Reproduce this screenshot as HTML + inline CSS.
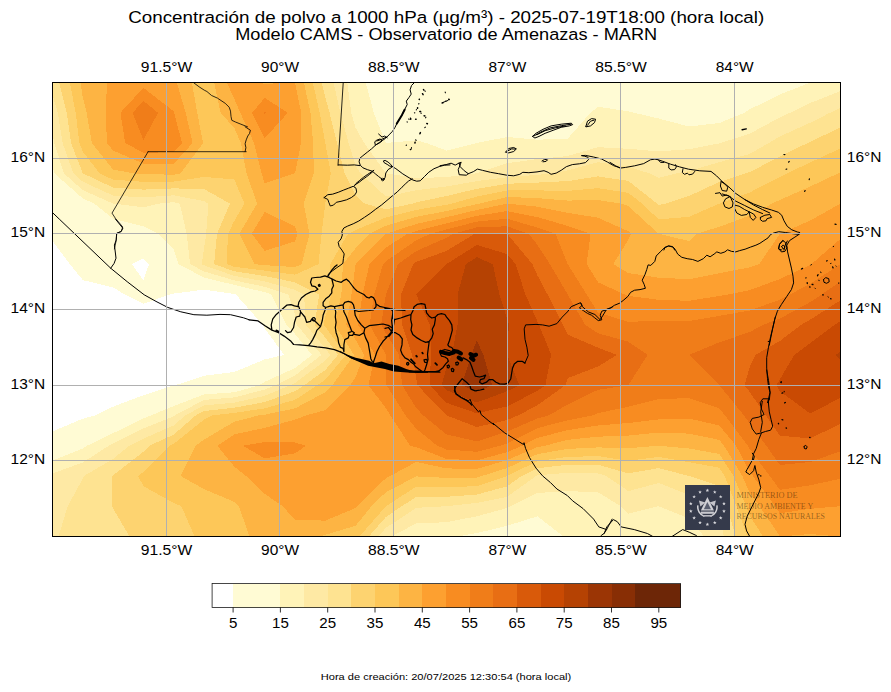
<!DOCTYPE html>
<html><head><meta charset="utf-8"><title>Concentración de polvo</title>
<style>
html,body{margin:0;padding:0;background:#fff;}
body{width:891px;height:692px;overflow:hidden;font-family:"Liberation Sans",sans-serif;}
svg{display:block;}
text{font-family:"Liberation Sans",sans-serif;fill:#000;}
</style></head><body>
<svg width="891" height="692" viewBox="0 0 891 692">
<rect x="0" y="0" width="891" height="692" fill="#ffffff"/>
<defs><clipPath id="ax"><rect x="52.5" y="82.5" width="788" height="454"/></clipPath></defs>
<text x="128.2" y="22.9" font-size="16.8" textLength="636" lengthAdjust="spacingAndGlyphs">Concentración de polvo a 1000 hPa (µg/m³) - 2025-07-19T18:00 (hora local)</text>
<text x="235.2" y="39.7" font-size="16.8" textLength="422" lengthAdjust="spacingAndGlyphs">Modelo CAMS - Observatorio de Amenazas - MARN</text>
<g clip-path="url(#ax)">
<rect x="52" y="82" width="789" height="455" fill="#ffffff"/>
<g id="cf" stroke="none" shape-rendering="crispEdges">
<path fill="#fffbd4" fill-rule="evenodd" d="M52.5,536.5L82.8,536.5L113.1,536.5L143.4,536.5L173.7,536.5L204.0,536.5L234.3,536.5L264.7,536.5L295.0,536.5L325.3,536.5L355.6,536.5L385.9,536.5L416.2,536.5L446.5,536.5L476.8,536.5L507.1,536.5L537.4,536.5L567.7,536.5L598.0,536.5L628.3,536.5L658.7,536.5L689.0,536.5L719.3,536.5L749.6,536.5L779.9,536.5L810.2,536.5L840.5,536.5L840.5,506.2L840.5,476.0L840.5,445.7L840.5,415.4L840.5,385.2L840.5,354.9L840.5,324.6L840.5,294.4L840.5,264.1L840.5,233.8L840.5,203.6L840.5,173.3L840.5,143.0L840.5,112.8L840.5,82.5L810.2,82.5L779.9,82.5L749.6,82.5L719.3,82.5L689.0,82.5L658.7,82.5L628.3,82.5L598.0,82.5L567.7,82.5L537.4,82.5L507.1,82.5L476.8,82.5L446.5,82.5L416.2,82.5L385.9,82.5L355.6,82.5L325.3,82.5L295.0,82.5L264.7,82.5L234.3,82.5L204.0,82.5L173.7,82.5L143.4,82.5L113.1,82.5L82.8,82.5L52.5,82.5L52.5,112.8L52.5,143.0L52.5,173.3L52.5,203.6L52.5,233.8L52.5,240.8L69.8,264.1L82.8,280.1L113.1,287.4L124.5,294.4L143.4,303.8L170.2,294.4L173.7,293.6L204.0,289.6L234.3,294.0L235.8,294.4L262.5,324.6L264.7,328.6L284.2,354.9L264.7,359.4L234.3,372.0L204.0,375.8L175.4,385.2L173.7,385.4L143.4,395.2L113.1,406.7L95.6,415.4L82.8,418.7L52.5,431.4L52.5,445.7L52.5,476.0L52.5,506.2ZM143.4,280.6L132.1,264.1L143.4,258.5L149.0,264.1Z"/>
<path fill="#fff3b8" fill-rule="evenodd" d="M52.5,536.5L82.8,536.5L113.1,536.5L143.4,536.5L173.7,536.5L204.0,536.5L234.3,536.5L264.7,536.5L295.0,536.5L325.3,536.5L355.6,536.5L385.9,536.5L416.2,536.5L446.5,536.5L456.6,536.5L476.8,533.1L507.1,525.8L537.4,516.3L563.4,536.5L567.7,536.5L598.0,536.5L628.3,536.5L658.7,536.5L689.0,536.5L719.3,536.5L749.6,536.5L779.9,536.5L810.2,536.5L840.5,536.5L840.5,506.2L840.5,476.0L840.5,445.7L840.5,415.4L840.5,385.2L840.5,354.9L840.5,324.6L840.5,294.4L840.5,264.1L840.5,233.8L840.5,203.6L840.5,173.3L840.5,143.0L840.5,112.8L840.5,82.5L810.2,82.5L810.2,82.5L779.9,94.5L749.6,109.4L744.5,112.8L719.3,123.0L689.0,126.5L658.7,118.5L634.4,112.8L628.3,111.3L598.0,106.7L590.5,112.8L567.7,138.7L537.4,139.7L507.1,137.0L476.8,143.0L476.8,143.0L446.5,150.6L426.3,143.0L416.2,140.3L385.9,143.0L385.9,143.0L385.9,143.0L373.8,112.8L365.7,82.5L355.6,82.5L325.3,82.5L295.0,82.5L264.7,82.5L234.3,82.5L204.0,82.5L173.7,82.5L143.4,82.5L113.1,82.5L82.8,82.5L52.5,82.5L52.5,112.8L52.5,143.0L52.5,167.2L54.4,173.3L82.8,198.5L94.2,203.6L113.1,218.7L143.4,226.3L158.6,233.8L173.7,249.0L178.4,264.1L204.0,277.5L234.3,284.9L264.7,292.2L271.4,294.4L286.1,324.6L295.0,334.0L311.9,354.9L295.0,368.1L264.7,381.8L259.2,385.2L234.3,392.3L204.0,394.4L173.7,406.1L151.0,415.4L143.4,418.5L113.1,433.2L87.1,445.7L82.8,448.5L52.5,460.6L52.5,476.0L52.5,506.2Z"/>
<path fill="#fee9a4" fill-rule="evenodd" d="M52.5,536.5L82.8,536.5L113.1,536.5L143.4,536.5L173.7,536.5L204.0,536.5L234.3,536.5L264.7,536.5L295.0,536.5L325.3,536.5L355.6,536.5L385.9,536.5L391.7,536.5L416.2,523.4L446.5,522.2L476.8,516.3L507.1,508.0L510.9,506.2L537.4,493.0L567.7,491.1L598.0,492.3L620.8,506.2L628.3,513.8L658.7,506.2L658.7,506.2L658.7,506.2L689.0,518.3L704.1,536.5L719.3,536.5L749.6,536.5L779.9,536.5L810.2,536.5L840.5,536.5L840.5,506.2L840.5,476.0L840.5,445.7L840.5,415.4L840.5,385.2L840.5,354.9L840.5,324.6L840.5,294.4L840.5,264.1L840.5,233.8L840.5,203.6L840.5,173.3L840.5,143.0L840.5,112.8L840.5,91.0L810.2,103.0L790.0,112.8L779.9,117.4L749.6,133.7L720.7,143.0L719.3,143.4L689.0,149.2L658.7,151.4L628.3,148.8L598.0,147.2L567.7,156.0L537.4,159.1L507.1,163.2L476.8,173.3L476.8,173.3L446.5,177.1L416.2,178.1L385.9,173.3L385.9,173.3L364.2,143.0L355.6,127.9L351.2,112.8L347.3,82.5L325.3,82.5L295.0,82.5L264.7,82.5L234.3,82.5L204.0,82.5L173.7,82.5L143.4,82.5L113.1,82.5L82.8,82.5L52.5,82.5L52.5,112.8L52.5,132.9L54.2,143.0L63.9,173.3L82.8,190.1L113.1,203.6L113.1,203.6L143.4,207.3L158.6,203.6L173.7,202.2L179.8,203.6L186.7,233.8L190.1,264.1L204.0,271.4L234.3,280.4L264.7,286.8L288.2,294.4L295.0,314.5L296.7,324.6L321.5,354.9L295.0,375.5L275.3,385.2L264.7,389.6L234.3,397.4L204.0,399.9L174.8,415.4L173.7,416.4L143.4,428.5L113.1,443.6L108.8,445.7L82.8,462.5L52.5,473.4L52.5,476.0L52.5,506.2Z"/>
<path fill="#fee391" fill-rule="evenodd" d="M58.6,536.5L82.8,536.5L113.1,536.5L143.4,536.5L173.7,536.5L204.0,536.5L234.3,536.5L264.7,536.5L295.0,536.5L325.3,536.5L355.6,536.5L378.3,536.5L385.9,527.9L416.2,507.8L446.5,506.2L446.5,506.2L476.8,502.9L507.1,496.8L536.0,476.0L537.4,475.3L567.7,472.8L598.0,473.4L606.3,476.0L628.3,491.1L658.7,483.0L689.0,494.9L711.7,506.2L719.3,516.3L723.9,536.5L749.6,536.5L779.9,536.5L810.2,536.5L840.5,536.5L840.5,506.2L840.5,476.0L840.5,445.7L840.5,415.4L840.5,385.2L840.5,354.9L840.5,324.6L840.5,294.4L840.5,264.1L840.5,233.8L840.5,203.6L840.5,173.3L840.5,143.0L840.5,112.8L840.5,108.0L829.9,112.8L810.2,122.7L779.9,136.5L768.9,143.0L749.6,154.0L719.3,162.1L689.0,171.1L677.3,173.3L658.7,177.9L649.3,173.3L628.3,166.8L598.0,162.2L567.7,170.4L552.6,173.3L537.4,174.9L507.1,177.2L476.8,181.1L446.5,186.5L416.2,190.2L385.9,196.6L360.6,173.3L355.6,165.7L348.6,143.0L340.4,112.8L333.5,82.5L325.3,82.5L295.0,82.5L264.7,82.5L234.3,82.5L204.0,82.5L173.7,82.5L143.4,82.5L113.1,82.5L82.8,82.5L52.5,82.5L52.5,94.6L57.8,112.8L62.6,143.0L73.3,173.3L82.8,181.7L113.1,195.6L143.4,197.4L173.7,195.3L204.0,201.1L208.4,203.6L206.2,233.8L204.0,249.0L201.7,264.1L204.0,265.3L234.3,275.9L264.7,281.4L295.0,289.8L304.1,294.4L305.7,324.6L325.3,348.4L330.1,354.9L325.3,360.6L295.0,382.9L290.4,385.2L264.7,395.8L234.3,402.6L204.0,405.5L185.2,415.4L173.7,425.5L143.4,438.6L129.3,445.7L113.1,458.9L83.9,476.0L82.8,478.7L67.7,506.2Z"/>
<path fill="#fdd370" fill-rule="evenodd" d="M112.1,506.2L113.1,508.6L129.6,536.5L143.4,536.5L173.7,536.5L204.0,536.5L234.3,536.5L264.7,536.5L295.0,536.5L325.3,536.5L355.6,536.5L368.8,536.5L385.9,517.0L401.8,506.2L416.2,497.0L446.5,496.8L476.8,494.5L507.1,486.4L521.5,476.0L537.4,468.2L567.7,464.8L598.0,464.7L628.3,473.4L658.7,468.1L689.0,476.0L689.0,476.0L719.3,486.1L726.9,506.2L735.6,536.5L749.6,536.5L779.9,536.5L810.2,536.5L840.5,536.5L840.5,506.2L840.5,476.0L840.5,445.7L840.5,415.4L840.5,385.2L840.5,354.9L840.5,324.6L840.5,294.4L840.5,264.1L840.5,233.8L840.5,203.6L840.5,173.3L840.5,143.0L840.5,127.3L810.2,141.9L807.7,143.0L779.9,156.4L749.6,172.2L745.6,173.3L719.3,181.9L689.0,196.0L666.2,203.6L658.7,205.0L657.1,203.6L628.3,180.9L598.0,176.4L567.7,181.1L537.4,182.6L507.1,183.8L476.8,188.8L446.5,196.0L416.2,202.4L412.4,203.6L385.9,209.3L364.7,203.6L355.6,195.3L344.6,173.3L336.9,143.0L329.6,112.8L325.3,97.6L321.7,82.5L295.0,82.5L264.7,82.5L234.3,82.5L204.0,82.5L173.7,82.5L143.4,82.5L113.1,82.5L82.8,82.5L59.0,82.5L66.8,112.8L71.0,143.0L82.8,173.3L82.8,173.3L113.1,187.6L143.4,189.6L173.7,188.4L204.0,189.0L230.0,203.6L217.0,233.8L214.1,264.1L234.3,271.3L264.7,276.0L295.0,282.3L319.2,294.4L314.6,324.6L325.3,337.6L338.0,354.9L325.3,370.0L304.2,385.2L295.0,391.2L264.7,402.1L234.3,407.7L204.0,411.0L195.7,415.4L173.7,434.7L149.5,445.7L143.4,451.8L113.1,475.3L112.0,476.0Z"/>
<path fill="#fdc758" fill-rule="evenodd" d="M194.7,536.5L204.0,536.5L234.3,536.5L264.7,536.5L295.0,536.5L325.3,536.5L355.6,536.5L359.4,536.5L385.9,506.2L385.9,506.2L416.2,486.7L446.5,487.3L476.8,486.1L507.1,476.0L507.1,476.0L537.4,461.2L567.7,456.9L598.0,456.1L628.3,460.8L658.7,456.9L689.0,462.2L719.3,467.7L724.6,476.0L736.5,506.2L747.2,536.5L749.6,536.5L779.9,536.5L810.2,536.5L840.5,536.5L840.5,506.2L840.5,476.0L840.5,445.7L840.5,415.4L840.5,385.2L840.5,354.9L840.5,324.6L840.5,294.4L840.5,264.1L840.5,233.8L840.5,203.6L840.5,173.3L840.5,148.3L810.2,162.5L787.0,173.3L779.9,177.0L749.6,192.5L719.3,203.6L719.3,203.6L689.0,216.8L658.7,219.4L642.0,203.6L628.3,192.8L598.0,188.2L567.7,190.9L537.4,190.4L507.1,190.4L476.8,196.6L452.0,203.6L446.5,204.8L416.2,209.9L385.9,217.5L355.6,230.0L348.0,233.8L330.3,264.1L331.3,294.4L325.3,317.1L323.5,324.6L325.3,326.8L346.0,354.9L325.3,379.5L317.4,385.2L295.0,399.8L264.7,408.4L234.3,412.9L212.7,415.4L204.0,419.5L173.7,443.9L169.7,445.7L143.4,471.9L138.2,476.0L143.4,486.1L173.7,503.0L181.3,506.2ZM226.8,264.1L234.3,266.8L264.7,270.6L295.0,274.7L318.5,264.1L321.6,233.8L325.3,203.6L325.3,203.6L330.8,173.3L325.3,143.0L325.3,143.0L319.7,112.8L312.8,82.5L295.0,82.5L264.7,82.5L234.3,82.5L204.0,82.5L173.7,82.5L143.4,82.5L113.1,82.5L82.8,82.5L69.8,82.5L75.7,112.8L79.4,143.0L82.8,151.7L99.6,173.3L113.1,179.7L143.4,181.8L173.7,181.6L204.0,176.9L234.3,179.4L244.4,203.6L234.3,220.9L227.9,233.8Z"/>
<path fill="#fdb443" fill-rule="evenodd" d="M249.5,536.5L264.7,536.5L295.0,536.5L320.5,536.5L325.3,534.8L355.6,525.8L371.5,506.2L385.9,492.2L416.2,476.4L446.5,477.9L476.8,477.6L481.9,476.0L507.1,468.0L537.4,454.1L567.7,448.9L598.0,447.4L628.3,448.2L658.7,445.7L658.7,445.7L658.7,445.7L689.0,448.5L719.3,454.0L733.5,476.0L746.1,506.2L749.6,515.6L763.0,536.5L779.9,536.5L810.2,536.5L840.5,536.5L840.5,506.2L840.5,476.0L840.5,445.7L840.5,415.4L840.5,385.2L840.5,354.9L840.5,324.6L840.5,294.4L840.5,264.1L840.5,233.8L840.5,203.6L840.5,173.3L840.5,172.3L838.2,173.3L810.2,186.5L779.9,199.9L772.1,203.6L749.6,215.6L719.3,226.8L696.5,233.8L689.0,241.0L658.7,233.8L658.7,233.8L628.3,206.1L620.8,203.6L598.0,200.0L567.7,200.6L537.4,198.1L507.1,197.0L479.6,203.6L476.8,204.1L446.5,211.0L416.2,216.9L385.9,225.7L369.9,233.8L355.6,248.2L342.9,264.1L341.4,294.4L334.6,324.6L354.0,354.9L332.4,385.2L325.3,392.3L295.0,408.4L264.7,414.7L258.8,415.4L234.3,421.7L204.0,439.6L195.8,445.7L180.7,476.0L204.0,489.1L234.3,501.9L238.9,506.2ZM254.6,264.1L264.7,265.2L295.0,267.1L301.7,264.1L309.5,233.8L303.6,203.6L313.9,173.3L313.1,143.0L310.5,112.8L303.9,82.5L295.0,82.5L264.7,82.5L234.3,82.5L214.1,82.5L220.6,112.8L234.3,127.9L240.9,143.0L246.5,173.3L257.1,203.6L239.3,233.8ZM133.3,173.3L143.4,174.1L173.7,174.7L180.5,173.3L203.2,143.0L197.2,112.8L191.9,82.5L173.7,82.5L143.4,82.5L113.1,82.5L82.8,82.5L80.6,82.5L82.8,97.6L86.6,112.8L91.9,143.0L113.1,169.5Z"/>
<path fill="#fda030" fill-rule="evenodd" d="M282.7,506.2L295.0,520.0L325.3,520.6L355.6,508.0L357.0,506.2L385.9,478.2L390.2,476.0L416.2,461.9L446.5,468.4L476.8,469.0L507.1,460.0L537.4,447.1L545.0,445.7L567.7,439.8L598.0,436.7L628.3,435.6L658.7,432.5L689.0,433.6L719.3,439.9L724.0,445.7L742.4,476.0L749.6,492.8L759.6,506.2L779.9,536.5L810.2,534.0L840.5,536.5L840.5,506.2L840.5,476.0L840.5,445.7L840.5,415.4L840.5,385.2L840.5,354.9L840.5,324.6L840.5,294.4L840.5,264.1L840.5,233.8L840.5,203.6L810.2,220.5L779.9,233.8L779.9,233.8L759.2,264.1L749.6,267.3L719.3,273.3L689.0,279.2L658.7,277.7L628.3,273.1L613.2,264.1L628.3,239.9L631.1,233.8L628.3,231.3L598.0,217.7L567.7,212.8L537.4,206.7L507.1,203.6L476.8,210.0L446.5,217.2L416.2,224.0L385.9,233.8L385.9,233.8L355.6,264.1L355.6,264.1L351.5,294.4L346.3,324.6L355.6,339.8L364.2,354.9L355.6,376.9L350.2,385.2L325.3,410.1L306.3,415.4L295.0,419.6L264.7,427.9L234.3,434.4L217.3,445.7L234.3,466.7L246.0,476.0L264.7,493.9ZM251.7,233.8L264.7,250.9L295.0,241.4L297.4,233.8L295.0,226.3L264.7,212.0ZM261.6,173.3L264.7,183.4L295.0,173.3L295.0,173.3L301.0,143.0L301.2,112.8L295.0,82.5L264.7,83.9L260.3,82.5L234.3,82.5L226.8,82.5L234.3,99.0L240.3,112.8L254.1,143.0ZM107.1,143.0L113.1,150.6L143.4,163.6L173.7,163.9L192.6,143.0L185.7,112.8L176.8,82.5L173.7,82.5L143.4,82.5L113.1,82.5L107.1,82.5L105.5,112.8Z"/>
<path fill="#f88c21" fill-rule="evenodd" d="M324.8,506.2L325.3,506.4L325.6,506.2L325.3,505.3ZM775.2,506.2L779.9,513.2L810.2,508.8L840.5,506.2L840.5,506.2L840.5,476.0L840.5,445.7L840.5,415.4L840.5,385.2L840.5,354.9L840.5,324.6L840.5,294.4L840.5,264.1L840.5,238.9L811.4,264.1L810.2,264.9L779.9,279.0L749.6,290.2L728.6,294.4L719.3,296.0L689.0,300.8L658.7,299.8L628.3,295.9L624.4,294.4L598.0,282.3L586.7,264.1L590.5,233.8L567.7,225.9L537.4,217.1L507.1,211.1L476.8,215.8L446.5,223.3L416.2,231.0L407.5,233.8L385.9,247.6L369.4,264.1L362.6,294.4L357.9,324.6L375.1,354.9L368.4,385.2L385.9,408.2L390.4,415.4L410.1,445.7L416.2,447.2L446.5,458.9L476.8,460.4L507.1,452.1L522.3,445.7L537.4,437.9L567.7,430.1L598.0,425.5L628.3,423.0L658.7,419.4L689.0,418.5L719.3,425.5L736.0,445.7L749.6,471.4L752.9,476.0ZM242.8,445.7L264.7,458.4L295.0,453.3L306.1,445.7L295.0,442.5L264.7,442.0ZM264.2,233.8L264.7,234.5L266.1,233.8L264.7,233.0ZM125.2,143.0L143.4,152.8L173.7,152.2L182.0,143.0L174.2,112.8L173.7,111.3L143.4,87.8L120.4,112.8ZM252.1,112.8L264.7,138.2L287.9,112.8L264.7,97.9Z"/>
<path fill="#f07d19" fill-rule="evenodd" d="M769.8,476.0L779.9,489.9L810.2,485.3L840.5,478.7L840.5,476.0L840.5,445.7L840.5,415.4L840.5,385.2L840.5,354.9L840.5,324.6L840.5,294.4L840.5,264.1L810.2,283.8L790.0,294.4L779.9,299.7L749.6,310.5L719.3,315.9L689.0,321.0L658.7,320.5L628.3,322.0L598.0,312.5L586.7,294.4L567.7,264.1L567.7,264.1L555.6,233.8L537.4,227.6L507.1,218.7L476.8,221.6L446.5,229.5L430.2,233.8L416.2,240.3L385.9,261.3L383.1,264.1L374.2,294.4L369.6,324.6L385.9,354.9L385.9,354.9L386.5,385.2L405.6,415.4L416.2,428.7L437.2,445.7L446.5,449.5L476.8,451.8L500.4,445.7L507.1,443.4L537.4,428.1L567.7,420.3L593.0,415.4L598.0,413.1L628.3,406.8L658.7,399.1L689.0,398.1L719.3,408.4L725.0,415.4L747.9,445.7L749.6,448.9ZM132.5,112.8L143.4,140.0L158.1,112.8L143.4,100.9ZM263.9,112.8L264.7,114.2L266.0,112.8L264.7,111.9Z"/>
<path fill="#e86e14" fill-rule="evenodd" d="M766.3,445.7L779.9,465.0L810.2,462.0L840.5,451.2L840.5,445.7L840.5,415.4L840.5,385.2L840.5,354.9L840.5,324.6L840.5,294.4L840.5,281.7L821.7,294.4L810.2,302.1L779.9,318.6L763.7,324.6L749.6,332.1L719.3,342.3L689.0,354.9L719.3,385.2L719.3,385.2L743.9,415.4L749.6,423.3ZM423.2,415.4L446.5,434.4L476.8,441.4L507.1,431.7L537.4,418.4L548.8,415.4L567.7,404.5L598.0,389.8L628.3,385.2L628.3,385.2L647.6,354.9L628.3,341.7L598.0,333.3L585.0,324.6L567.7,294.4L567.7,294.4L549.9,264.1L537.4,244.8L528.8,233.8L507.1,226.3L476.8,227.4L453.0,233.8L446.5,237.8L416.2,251.1L398.0,264.1L385.9,294.4L385.9,294.4L381.2,324.6L385.9,333.3L399.1,354.9L402.1,385.2L416.2,407.9Z"/>
<path fill="#d95a0a" fill-rule="evenodd" d="M446.5,415.4L476.8,427.0L507.1,420.1L518.1,415.4L537.4,405.3L565.3,385.2L567.7,378.2L598.0,366.5L617.0,354.9L598.0,347.7L567.7,334.7L562.9,324.6L547.5,294.4L537.4,275.4L532.4,264.1L507.1,233.8L507.1,233.8L476.8,233.3L474.6,233.8L446.5,250.9L416.2,261.9L413.2,264.1L401.0,294.4L402.1,324.6L412.2,354.9L416.2,377.6L417.4,385.2L446.5,415.4ZM765.9,415.4L779.9,435.6L810.2,438.5L840.5,423.7L840.5,415.4L840.5,385.2L840.5,354.9L840.5,324.6L840.5,300.3L810.2,319.7L801.4,324.6L779.9,341.0L755.5,354.9L749.6,367.4L744.5,385.2L749.6,391.9Z"/>
<path fill="#c94a03" fill-rule="evenodd" d="M429.5,385.2L446.5,402.8L476.8,413.3L507.1,406.4L537.4,390.9L545.4,385.2L551.2,354.9L538.9,324.6L537.4,321.4L525.4,294.4L515.5,264.1L507.1,254.0L476.8,244.9L446.5,264.1L446.5,264.1L416.2,294.4L429.7,324.6L431.1,354.9ZM776.5,385.2L779.9,391.2L810.2,413.5L840.5,397.8L840.5,385.2L840.5,354.9L840.5,324.6L840.5,321.3L835.0,324.6L810.2,343.1L794.3,354.9L779.9,379.3Z"/>
<path fill="#b54203" fill-rule="evenodd" d="M441.7,385.2L446.5,390.2L476.8,402.5L507.1,391.2L519.2,385.2L507.1,354.9L507.1,354.9L507.1,354.9L508.9,324.6L507.1,318.6L499.4,294.4L492.8,264.1L476.8,257.2L465.9,264.1L457.5,294.4L457.5,324.6L451.9,354.9L446.5,367.4ZM835.8,354.9L840.5,359.9L840.5,354.9L840.5,351.7Z"/>
<path fill="#9b3505" fill-rule="evenodd" d="M461.7,385.2L476.8,391.7L492.0,385.2L483.4,354.9L476.8,340.3L471.4,354.9Z"/>
</g>
<g id="coast">
<path fill="none" stroke="#000" stroke-width="0.8" stroke-linejoin="round" stroke-linecap="round" d="M193.9,82.9L199.1,86.8L204.3,90.2L206.9,91.5L211.6,95.5L217.4,98.1L225.2,103.3L229.2,107.2L230.5,111.1L231.0,116.4L231.8,120.3L235.7,122.1L240.9,124.2L247.5,126.8M148.1,151.7L246.2,151.7M148.1,151.7L112.0,213.1L115.4,218.3L122.8,227.0L121.2,231.4L116.7,233.2L116.2,240.5L114.4,248.9"/>
<path fill="none" stroke="#000" stroke-width="0.85" stroke-linejoin="round" stroke-linecap="round" d="M245.1,126.8L250.4,130.2L249.6,133.4L247.8,136.0L246.2,139.9L245.1,143.8L245.9,147.7L245.1,151.7M343.2,82.9L338.0,165.3"/>
<path fill="none" stroke="#000" stroke-width="1.0" stroke-linejoin="round" stroke-linecap="round" d="M115.4,219.0L122.8,228.2L121.2,231.5L116.7,233.4L116.2,239.9L114.4,245.1L115.4,253.0L116.0,258.2L114.1,263.4L110.7,268.2M52.4,212.5L59.2,219.0L110.7,268.2L127.2,281.7L144.2,294.8L156.0,301.4L167.7,307.4L180.8,311.8L193.9,314.7L206.9,315.2L220.0,314.4L230.5,314.7L243.5,317.8L249.0,319.7M412.3,178.8L408.6,181.0L405.8,183.5L402.0,187.2L397.3,191.9L392.6,195.7L387.0,200.4L381.4,205.1L375.7,209.2L370.1,213.5L364.5,217.3L358.8,221.0L353.2,223.8L347.6,226.1L343.8,228.0L341.9,231.4L342.3,235.1L341.0,238.9L338.2,242.3L339.1,246.4L341.9,250.1L344.2,253.9L343.4,258.6L342.9,263.3L340.0,265.5L336.3,268.0L332.5,270.8L329.7,273.1L327.8,274.9L328.8,276.1M324.1,197.6L327.8,194.7L332.5,194.2L338.2,192.3L343.8,190.0L348.5,188.2L353.2,186.3L356.0,188.2L356.6,191.9L355.1,194.7L351.3,197.6L346.6,199.8L341.0,201.3L336.3,202.3L333.5,205.1L330.3,206.0L328.8,202.3L327.8,199.4L324.1,197.6M354.1,186.3L356.0,183.5L359.8,180.3L363.5,177.3L367.3,174.6L371.0,172.2L373.8,170.3M355.1,184.8L359.2,182.2L363.0,179.2L366.3,176.9L369.7,174.3L372.9,171.6M338.3,164.9L347.3,165.2L354.3,164.9L359.8,165.6M415.0,82.0L411.5,85.5L410.1,89.8L411.2,94.1L408.9,97.6L406.3,101.1L407.2,104.5L404.6,109.7L402.0,114.9L399.4,119.3L396.8,123.6L395.0,127.4L392.4,131.4L389.0,134.9L385.5,138.4L380.3,141.8L375.4,145.3L371.6,148.8L367.3,152.2L362.9,155.7L359.8,158.3L359.1,161.8L360.3,165.2L362.9,167.8L367.3,169.6L372.5,171.3L375.4,173.9L378.6,176.5L382.0,179.1L383.8,180.0L385.1,177.4L385.8,173.0L388.1,169.6L391.0,167.8L392.4,166.6L390.7,164.4L388.1,162.1L385.1,160.4L383.4,160.9L384.1,162.6L387.2,164.4L389.8,166.1L392.4,166.6M392.4,166.6L395.9,168.7L402.8,173.9L409.8,178.2L412.9,180.0L416.7,181.2L420.2,180.8L424.5,176.5L428.8,172.2L434.0,168.7L439.2,166.6L444.4,165.2L450.0,164.9M382.0,178.2L381.3,180.0L382.7,180.8L384.1,179.8L383.4,178.4M375.4,145.3L374.7,141.8L376.8,140.1L380.3,138.9L382.0,141.0L379.4,143.0L376.5,144.4M378.6,134.0L382.0,137.1L384.6,136.1L387.2,137.8M376.8,141.0L382.0,139.2L386.4,137.1M440.0,165.7L446.1,164.6L451.1,163.2L455.2,165.1L459.2,163.0L461.2,162.2L458.2,169.7L459.2,174.7L466.3,175.2L468.3,173.7L464.2,170.7L460.2,166.7L459.2,163.0M468.3,173.7L473.3,171.7L477.4,169.1L482.4,170.3L490.5,172.3L498.6,173.7L506.7,175.2L513.7,175.8L519.8,174.3L522.8,172.3L528.9,172.7L537.0,171.9L544.0,170.7L548.1,172.3L551.1,174.3L556.2,173.1L561.2,170.3L566.3,166.7L572.3,164.6L579.4,163.8L585.5,162.6L588.5,159.6L587.9,157.2L584.4,156.2L581.4,155.6L585.5,155.4L593.5,157.0L601.6,159.0L607.7,162.2L613.7,165.7L620.0,167.7M532.5,136.4L536.0,133.3L543.0,129.3L551.1,125.9L561.2,124.2L571.3,123.2L572.7,124.6L569.3,125.9L561.2,127.3L553.1,130.3L545.1,133.3L539.0,136.4L534.9,138.0L532.5,136.4M533.9,136.0L541.0,131.9L550.1,127.9L561.2,125.7L571.3,124.2M537.0,134.7L545.1,130.7L555.2,127.9L565.3,125.9M585.9,126.3L587.5,121.2L591.5,118.6L595.6,119.2L594.5,122.6L590.5,125.9L585.9,126.9L585.9,126.3M587.5,125.3L590.5,121.2L593.9,120.2M505.7,152.1L508.7,148.5L513.7,147.5L516.4,148.9L513.7,151.5L508.7,152.9L505.7,152.1M507.7,150.9L511.7,148.9L515.2,149.1M542.0,161.0L544.6,159.4L547.5,159.8L546.1,161.4L543.0,161.8M442.0,102.8L445.1,101.6L448.1,100.4M610.0,162.4L615.6,165.8L620.1,168.1L625.7,167.4L634.7,165.8L643.7,163.6L650.4,159.8L654.9,159.1L658.3,159.8L662.7,161.3L670.6,164.2L679.6,166.9L688.6,169.2L699.8,170.8L711.0,171.4L716.6,175.9L722.2,181.5L729.0,187.1L735.7,193.4L744.7,199.5L753.7,204.0L762.6,207.3L771.6,210.0L778.4,212.3L781.7,215.2L784.0,220.8L787.3,226.4L791.8,229.8L797.4,232.0L799.7,232.5M668.8,164.2L668.8,168.1L671.1,169.9L674.6,169.6L676.4,166.9L675.5,164.7M683.0,168.7L682.3,172.5L684.5,174.3L687.4,173.2L689.0,174.8L692.6,174.1L694.8,171.4M721.1,181.5L720.4,186.0L722.2,190.5L726.7,191.2L727.8,187.1L724.5,183.8L721.1,181.5M715.5,193.4L720.0,192.7L722.2,196.1L726.7,195.0L730.1,196.6L725.6,198.8L723.4,202.9L724.9,206.9L729.0,208.5L732.3,206.9L733.0,202.9L731.2,198.8L730.1,196.6M734.6,205.1L739.1,206.2L744.7,209.6L749.2,211.8L746.9,214.5L741.3,215.4L736.8,213.0L734.6,208.5L734.6,205.1M749.2,211.8L753.7,214.1L755.9,217.4L753.2,220.4L750.3,217.4L749.2,211.8M760.4,217.4L764.9,215.2L769.8,214.5L771.6,217.4L767.1,218.6L766.0,220.8L762.6,221.3L760.4,219.7L760.4,217.4M744.7,199.5L753.7,205.1L762.6,209.6L769.8,213.0M722.2,193.9L729.0,196.1L735.7,201.1L744.7,205.5L753.7,210.0L762.6,213.6M658.3,159.8L660.5,162.4L663.9,162.4M663.9,250.0L665.0,247.3L668.8,245.9L673.3,247.3L674.6,250.0M782.8,240.6L779.5,244.4L778.4,248.9L781.7,250.0M787.3,241.0L785.1,245.5L784.0,250.0M799.0,234.4L792.2,233.6L785.5,232.5L778.8,231.7L773.4,233.1L770.7,234.4L768.0,237.9L763.9,240.6L759.9,243.3L755.9,245.2L750.5,247.1L745.1,249.2L739.7,250.6L735.7,251.9L731.6,251.4L727.6,249.8L724.9,251.9L720.8,253.3L716.8,251.9L714.1,254.1L710.1,256.8L706.8,255.2L703.3,258.7L697.9,261.4L692.6,259.5L687.2,258.7L681.8,257.3L677.7,254.1L675.1,249.2L672.4,246.5L668.3,246.0L664.3,247.9L660.2,251.9L656.2,256.0L654.8,261.4L650.8,265.4L648.1,264.9L646.8,269.4L644.9,274.8L642.2,280.2L644.1,284.3L645.4,288.3L640.0,289.6L634.6,290.2L630.6,292.3L627.9,296.4L623.9,299.9L619.8,303.1L614.4,305.3L610.4,308.0L606.4,309.8L601.8,311.2L600.2,315.2L601.8,319.8L598.3,320.6L594.8,317.9L591.5,315.2L587.5,313.4L583.5,310.7L579.4,308.0L582.1,305.3L580.8,303.1M799.0,234.4L794.9,237.1L789.5,240.6L786.8,245.2L787.6,251.9L789.5,260.0L791.4,268.1L793.0,276.2L793.6,282.9L791.4,289.6L786.8,296.4L781.4,304.5L777.4,311.2L774.7,319.3L772.6,328.7L770.7,338.1L769.3,345.1M782.8,240.6L779.6,243.9L778.8,248.7L781.4,251.9L784.9,251.4L786.8,247.9L785.5,242.5L782.8,240.6M781.7,246.5L783.3,244.9L784.9,247.1L783.3,249.2L781.7,246.5M775.3,317.1L773.2,326.2L770.6,336.7L768.5,347.2L766.7,357.6L766.7,368.1L767.5,378.6L768.5,386.4L770.1,392.9L769.3,400.0M823.5,279.7L825.6,277.6L828.7,278.6L829.2,281.8L826.6,283.3L824.0,282.3L823.5,279.7M806.0,277.5L805.9,278.2M811.5,264.6L810.8,265.0M814.9,288.1L815.3,288.5M820.7,272.0L821.0,272.7M831.0,263.4L830.6,263.5M835.9,266.0L836.2,266.2M828.0,296.8L828.4,297.1M833.5,246.3L833.3,246.7M838.4,283.1L838.9,283.1M818.9,280.2L819.1,280.7M768.9,341.4L768.2,341.5M784.2,391.3L784.2,391.9M766.7,370.0L768.5,380.5L770.1,392.2L768.5,398.8L767.5,402.7M768.5,398.8L762.8,398.8L760.2,402.7L761.5,409.2L764.1,414.5L758.9,417.1L752.3,418.4L750.2,422.3L752.3,428.9L756.2,434.1L761.5,432.8L765.4,431.5L770.6,430.2L772.7,426.2L771.1,419.7L769.3,411.9L768.5,404.0L768.5,398.8M762.3,401.4L760.7,411.9L762.3,422.3L760.7,431.5M761.5,432.8L758.9,439.3L756.2,448.5L753.6,453.7L752.3,460.2L747.1,469.4L745.8,472.0L749.7,474.6L753.6,470.7L754.9,465.5L756.2,472.0L758.9,479.9L760.7,487.7L758.9,492.9L754.9,500.8L751.0,508.6L747.1,516.5L745.0,524.3L746.6,530.9L749.7,536.4M752.3,453.2L754.4,456.3L753.4,460.2M804.1,446.4L805.7,445.3L807.2,446.9L806.2,449.0L804.4,448.5L804.1,446.4M525.0,362.9L528.2,355.5L526.9,347.2L525.0,339.3L524.2,328.9L525.6,324.9L536.0,324.4L542.6,324.9L549.1,326.2L556.9,323.6L562.2,317.1L567.4,311.9L571.3,306.6L580.5,302.7L582.3,306.6L588.3,311.9L594.9,314.5L600.1,319.7L602.7,315.8L606.6,309.2L612.1,307.4M454.4,385.7L454.9,389.6L456.2,393.5L461.5,397.5L468.5,400.9L470.1,399.3L471.9,404.0L478.5,411.9L480.0,410.5L481.1,414.5L488.9,421.0L494.2,424.9L492.9,423.1L498.1,427.5L504.6,432.8L515.1,439.3L523.5,444.5L524.0,442.7L525.6,448.5L529.5,457.6L536.0,468.1L542.6,475.9L550.4,482.5L556.9,489.0L567.4,495.6L572.6,500.8L583.1,508.6L593.6,519.1L598.8,526.9L606.6,529.6L604.0,533.5L601.4,535.3L600.1,537.4M606.6,529.6L612.1,519.1M604.2,533.5L606.8,526.9L613.4,519.6L617.3,521.7L621.2,526.9L634.3,529.6L647.4,533.5L652.6,536.4M672.2,536.4L682.7,529.6L689.2,532.2L695.8,535.3L698.4,537.4"/>
<path fill="none" stroke="#000" stroke-width="1.25" stroke-linejoin="round" stroke-linecap="round" d="M249.0,319.8L258.1,320.9L265.0,325.7L271.9,330.1L278.0,332.3L284.1,336.1L291.0,341.3L293.6,344.5L299.7,344.8L308.4,345.7L317.0,346.9L325.7,347.9L334.4,349.7L339.6,351.7L344.8,354.0L351.2,357.6L362.3,361.6L373.6,364.6L384.9,366.3L393.9,368.6L407.3,370.8L413.9,371.9L439.9,372.2M271.9,330.1L271.2,324.9L272.8,318.8L276.3,314.4L279.7,311.5L284.1,307.5L286.7,305.2L291.0,304.6L294.5,305.8L298.0,306.6L298.8,302.3L301.4,298.0L305.8,294.5L311.0,291.9L315.3,291.0L317.9,289.3L315.3,286.7L311.8,285.8L310.5,282.3L311.8,278.0L315.3,277.5L320.5,277.1L324.9,275.8L327.5,276.8L329.5,273.7L331.8,270.2L334.4,267.1L337.0,265.0M327.5,276.8L331.8,278.9L336.1,281.0L341.3,282.3L343.9,280.3L346.5,279.2L349.1,281.5L351.7,285.0L354.3,288.4L357.0,291.0L360.4,292.8L363.9,294.5L366.5,297.1L369.1,298.0L371.2,296.6L373.4,297.6L375.2,300.6L376.0,304.0L379.5,306.3L384.7,307.5L389.9,308.7L396.9,309.8L405.0,310.5M298.8,306.6L300.6,311.8L299.7,316.2L296.2,317.0L294.5,322.3L293.6,327.5L291.0,331.8L287.6,332.7L285.5,330.6M300.6,311.8L304.9,317.0L306.6,322.3L310.5,321.4L311.8,318.8L316.2,322.3L318.8,324.9L320.5,326.6L317.0,330.1L315.3,334.4L312.7,339.6L310.5,343.1L308.4,345.7M320.5,326.6L322.3,320.5L323.1,315.3L324.9,310.5L325.7,307.5L323.1,305.8L323.1,302.3L325.7,298.8L329.2,296.2L331.8,292.8L331.8,289.3L333.5,285.8L332.7,282.3L331.8,278.9M325.7,307.5L330.9,305.8L334.4,306.6L337.9,305.8L343.1,304.9L344.8,302.3L348.3,301.4L351.7,302.3L353.5,304.9L354.3,308.4L355.2,310.5L358.7,311.5L363.9,311.0L369.1,310.5L373.4,309.8L376.0,306.6L376.0,304.0M334.4,306.6L335.8,311.8L335.3,317.0L336.1,322.3L335.3,327.5L336.1,332.7L337.9,337.9L338.7,343.1L340.5,347.4L343.1,348.3L343.9,351.7M343.1,304.9L343.9,311.8L346.5,317.0L348.3,322.3L350.0,326.6L351.7,330.9L354.3,332.7L352.6,335.3L349.1,335.3L348.3,332.7L350.9,331.8M349.1,335.3L348.3,337.9L344.8,339.6L343.9,344.8L343.9,351.7M354.3,308.4L355.2,315.3L357.8,320.5L361.3,324.9L364.8,328.3L363.9,332.7L359.6,335.3L354.3,334.4M364.8,328.3L369.1,325.7L376.0,324.9L383.0,324.0L389.0,325.7L392.5,328.3M363.9,332.7L365.6,337.9L368.2,343.1L369.1,348.3L370.0,353.5L370.8,358.7L372.6,362.2M392.5,328.3L390.8,332.7L386.4,337.9L383.0,341.3L379.5,346.5L376.9,351.7L375.2,357.0L373.4,362.2L374.3,364.8M393.4,309.2L392.5,315.3L391.6,320.5L392.5,328.3M312.2,319.1L312.9,317.7L314.3,317.6L315.3,318.8L315.0,320.3L313.6,320.9L312.4,320.2L312.2,319.1M318.4,285.1L319.5,284.4L320.3,285.3L319.8,286.3L318.6,286.2L318.4,285.1M385.0,308.4L391.1,309.3L392.8,311.0L392.8,318.0L394.5,319.7L400.6,318.0L405.8,316.2L411.0,314.5L412.8,311.0L414.1,306.7L417.1,304.4L421.4,303.7L424.9,304.4L425.8,308.4L426.6,312.8L429.2,316.2L431.8,318.0L435.3,317.1L437.9,314.5L441.4,313.6L444.9,314.5L446.6,317.1L449.5,320.6L451.8,324.9L452.3,330.1L450.9,335.3L449.5,340.5L447.8,344.9L449.2,346.6L451.8,347.5L453.5,350.1L450.9,351.8M411.0,314.5L410.7,319.7L411.9,324.9L411.0,330.1L412.8,334.4L417.1,337.9L421.4,340.5L425.8,342.3L429.2,341.4L431.8,337.9L433.2,333.6L432.2,329.2L434.4,324.9L435.3,319.7L435.3,317.1M429.2,341.4L428.4,347.5L427.5,354.4L428.0,359.6L426.6,364.8L424.9,370.0L424.0,371.7M385.0,328.4L388.5,327.5L391.9,331.8L392.8,329.2L394.5,319.7M385.0,337.0L389.3,336.2L391.9,332.7L395.4,332.7L399.7,335.3L402.3,338.8L402.0,344.9L400.6,350.1L402.3,354.4L405.0,357.9L408.4,359.6L411.0,362.2L413.6,363.9L415.4,366.5L418.8,369.1L421.4,370.9M409.3,371.9L411.0,371.9L419.7,371.7L428.4,371.7L435.3,371.7L438.8,370.9L443.1,367.4L445.7,363.9L448.3,361.3L447.5,358.7L444.9,357.0L441.4,356.1L440.2,353.5L441.4,350.9L444.9,349.5L450.1,350.9M463.1,357.9L466.5,359.6L470.0,362.2L471.7,366.5L473.5,371.7L475.2,376.1L479.6,377.0L483.0,376.1L485.6,375.2L483.9,378.7L480.4,379.6L479.6,382.2L482.2,383.9L486.5,382.2L489.1,379.6L492.6,379.6L496.0,382.2L499.5,383.9L504.7,384.2M504.7,384.2L508.2,383.0L510.8,378.7L511.6,373.5L512.5,368.3L514.3,363.9L517.7,361.3L522.1,361.3L525.0,363.1M462.2,378.7L458.7,383.0L455.3,387.4L454.4,390.8L456.1,394.3L461.3,397.8L466.5,400.4L470.0,403.0L471.7,405.1M462.2,378.7L466.5,382.2L470.0,385.6L470.9,389.1L475.2,390.8L480.4,390.0L483.9,389.1M455.8,362.7L457.2,362.0L458.6,363.1L457.9,364.8L456.1,364.8L455.8,362.7M447.1,365.7L448.5,365.0L449.5,366.2L448.8,367.8L447.5,367.6L447.1,365.7M451.3,369.0L452.7,368.3L453.9,369.7L453.4,371.6L451.8,371.4L451.3,369.0M424.0,359.9L426.3,359.3L427.7,361.0L426.6,362.6L424.6,362.2L424.0,359.9M406.7,363.1L408.1,362.4L408.9,363.9L407.9,365.2L406.7,364.5L406.7,363.1"/>
<path fill="none" stroke="#000" stroke-width="2.2" stroke-linejoin="round" stroke-linecap="round" d="M276.5,330.6L278.9,332.0"/>
<path fill="none" stroke="#000" stroke-width="4.0" stroke-linejoin="round" stroke-linecap="round" d="M440.9,351.8L444.9,353.0L449.5,354.0L454.0,352.3M454.0,350.9L457.9,351.8L461.0,353.5M458.6,357.5L461.3,359.3M470.4,354.0L473.5,355.8L476.1,354.7M470.9,357.9L473.5,359.9"/>
<path fill="none" stroke="#000" stroke-width="1.8" stroke-linejoin="round" stroke-linecap="round" d="M411.0,359.3L412.8,361.3L414.8,363.4M435.3,363.1L437.0,364.8M416.2,355.8L416.9,356.5M422.3,352.7L422.8,353.4"/>
<path fill="none" stroke="#000" stroke-width="2.0" stroke-linejoin="round" stroke-linecap="round" d="M396.8,123.6L399.4,119.3L402.0,114.9L404.6,109.7"/>
<path fill="none" stroke="#000" stroke-width="1.5" stroke-linejoin="round" stroke-linecap="round" d="M423.5,89.6L423.8,90.0M419.4,99.2L419.2,99.5M417.6,107.7L417.5,108.3M419.8,111.4L420.6,111.6M424.1,115.8L424.9,115.9M415.6,119.2L416.0,119.3M410.5,118.2L410.8,119.3M426.8,123.5L427.4,123.7M420.4,132.6L419.9,133.7M415.1,142.3L414.9,143.0M410.8,149.6L410.4,149.6M443.0,102.7L442.4,102.9M448.7,99.2L449.2,99.4M422.5,93.7L423.1,94.6"/>
<path fill="none" stroke="#000" stroke-width="1.1" stroke-linejoin="round" stroke-linecap="round" d="M424.8,90.9L425.3,91.2M418.9,103.5L418.7,103.9M416.4,109.6L416.3,109.9M414.4,112.8L414.8,112.9M425.9,117.3L425.6,117.8M408.7,119.0L409.1,119.5M407.1,121.7L407.2,122.1M425.3,127.2L424.8,127.6M415.6,139.9L416.1,140.3M411.5,147.5L411.5,148.3M406.4,145.1L406.2,145.5M446.0,101.1L445.7,101.1M445.2,92.1L445.4,92.8M420.8,113.1L421.3,113.3"/>
<path fill="none" stroke="#000" stroke-width="1.2" stroke-linejoin="round" stroke-linecap="round" d="M783.9,154.5L784.9,154.7M789.2,161.5L788.6,162.1M786.8,169.0L786.1,169.3M805.1,190.6L804.6,191.3M809.4,178.9L809.2,179.7"/>
<path fill="none" stroke="#000" stroke-width="1.4" stroke-linejoin="round" stroke-linecap="round" d="M742.1,129.7L746.3,128.9"/>
<path fill="none" stroke="#000" stroke-width="1.3" stroke-linejoin="round" stroke-linecap="round" d="M802.5,268.4L801.5,269.0M807.2,282.6L807.3,283.5M812.0,284.3L812.9,284.5M818.0,274.7L817.5,275.8M827.1,260.7L826.6,261.0M834.6,259.1L834.9,260.0M822.6,294.8L823.3,294.9M830.6,298.7L831.0,298.9M835.0,224.1L836.0,224.3M809.6,286.9L810.1,287.1M832.7,266.9L833.1,267.9M780.7,382.4L781.4,382.6M781.2,381.6L781.0,381.9M782.8,392.9L782.0,393.2M785.4,402.5L784.6,402.9M778.4,423.3L778.6,423.9M782.0,419.6L782.8,419.8M786.1,428.0L786.5,428.1M809.7,437.4L810.0,437.6M758.8,474.5L758.9,474.8M760.5,475.9L760.9,475.9"/>
<polygon fill="#000" points="340.0,351.7 351.2,358.5 368.1,365.8 384.9,369.1 393.9,371.4 407.3,372.5 418.0,373.0 428.0,372.8 428.0,371.6 420.0,370.6 414.0,370.6 409.6,370.0 406.2,368.9 398.4,365.8 389.4,363.9 381.5,361.5 373.7,363.3 369.2,360.7 355.7,357.7 346.7,354.5 340.0,350.8"/>
</g>
<g stroke="#b0b0b0" stroke-width="1" fill="none"><line x1="166.5" y1="82" x2="166.5" y2="537"/><line x1="279.5" y1="82" x2="279.5" y2="537"/><line x1="393.5" y1="82" x2="393.5" y2="537"/><line x1="507.5" y1="82" x2="507.5" y2="537"/><line x1="620.5" y1="82" x2="620.5" y2="537"/><line x1="734.5" y1="82" x2="734.5" y2="537"/><line x1="52" y1="460.5" x2="841" y2="460.5"/><line x1="52" y1="385.5" x2="841" y2="385.5"/><line x1="52" y1="309.5" x2="841" y2="309.5"/><line x1="52" y1="233.5" x2="841" y2="233.5"/><line x1="52" y1="158.5" x2="841" y2="158.5"/></g>
<g id="logo">
<rect x="685" y="485" width="45" height="45" fill="#353a4b"/>
<g fill="#d8d8dc"><polygon points="707.40,488.50 707.87,489.75 709.21,489.81 708.16,490.65 708.52,491.94 707.40,491.20 706.28,491.94 706.64,490.65 705.59,489.81 706.93,489.75"/><polygon points="714.78,490.18 715.25,491.44 716.58,491.50 715.53,492.33 715.89,493.62 714.78,492.88 713.66,493.62 714.02,492.33 712.97,491.50 714.31,491.44"/><polygon points="720.69,494.90 721.16,496.16 722.50,496.21 721.45,497.05 721.81,498.34 720.69,497.60 719.57,498.34 719.93,497.05 718.88,496.21 720.22,496.16"/><polygon points="723.97,501.72 724.44,502.97 725.78,503.03 724.73,503.86 725.09,505.15 723.97,504.42 722.86,505.15 723.21,503.86 722.17,503.03 723.50,502.97"/><polygon points="723.97,509.28 724.44,510.54 725.78,510.60 724.73,511.43 725.09,512.72 723.97,511.98 722.86,512.72 723.21,511.43 722.17,510.60 723.50,510.54"/><polygon points="720.69,516.10 721.16,517.35 722.50,517.41 721.45,518.25 721.81,519.54 720.69,518.80 719.57,519.54 719.93,518.25 718.88,517.41 720.22,517.35"/><polygon points="714.78,520.82 715.25,522.07 716.58,522.13 715.53,522.96 715.89,524.25 714.78,523.51 713.66,524.25 714.02,522.96 712.97,522.13 714.31,522.07"/><polygon points="707.40,522.50 707.87,523.75 709.21,523.81 708.16,524.65 708.52,525.94 707.40,525.20 706.28,525.94 706.64,524.65 705.59,523.81 706.93,523.75"/><polygon points="700.02,520.82 700.49,522.07 701.83,522.13 700.78,522.96 701.14,524.25 700.02,523.51 698.91,524.25 699.27,522.96 698.22,522.13 699.55,522.07"/><polygon points="694.11,516.10 694.58,517.35 695.92,517.41 694.87,518.25 695.23,519.54 694.11,518.80 692.99,519.54 693.35,518.25 692.30,517.41 693.64,517.35"/><polygon points="690.83,509.28 691.30,510.54 692.63,510.60 691.59,511.43 691.94,512.72 690.83,511.98 689.71,512.72 690.07,511.43 689.02,510.60 690.36,510.54"/><polygon points="690.83,501.72 691.30,502.97 692.63,503.03 691.59,503.86 691.94,505.15 690.83,504.42 689.71,505.15 690.07,503.86 689.02,503.03 690.36,502.97"/><polygon points="694.11,494.90 694.58,496.16 695.92,496.21 694.87,497.05 695.23,498.34 694.11,497.60 692.99,498.34 693.35,497.05 692.30,496.21 693.64,496.16"/><polygon points="700.02,490.18 700.49,491.44 701.83,491.50 700.78,492.33 701.14,493.62 700.02,492.88 698.91,493.62 699.27,492.33 698.22,491.50 699.55,491.44"/></g>
<g fill="none" stroke="#d4d4d8" stroke-width="1.5"><path d="M697.9,505.4 A10,10 0 0 0 704.4,516.4"/><path d="M716.9,505.4 A10,10 0 0 1 710.4,516.4"/></g>
<g fill="#d8d8dc" stroke="none"><polygon points="707.4,496.9 713.9,510.4 700.9,510.4" fill="#cfcfd4"/><polygon points="707.4,501.9 711.0,509.2 703.8,509.2" fill="#5a5f70"/><path d="M705.4,502.4 L698.9,500.4 L700.4,506.4 Z M709.4,502.4 L715.9,500.4 L714.4,506.4 Z" fill="#c4c4ca"/><rect x="700.9" y="511.59999999999997" width="13" height="2.2" fill="#c8c8ce"/><rect x="702.9" y="515.0" width="9" height="1.6" fill="#b8b8c0"/></g>
<text x="736.4" y="498.0" font-size="7.7" style="font-family:'Liberation Serif',serif" fill="#6e5a3c" fill-opacity="0.42" textLength="61.2" lengthAdjust="spacingAndGlyphs">MINISTERIO DE</text>
<text x="736.4" y="508.8" font-size="7.7" style="font-family:'Liberation Serif',serif" fill="#6e5a3c" fill-opacity="0.42" textLength="76.8" lengthAdjust="spacingAndGlyphs">MEDIO AMBIENTE Y</text>
<text x="736.4" y="518.8" font-size="7.7" style="font-family:'Liberation Serif',serif" fill="#6e5a3c" fill-opacity="0.42" textLength="88.6" lengthAdjust="spacingAndGlyphs">RECURSOS NATURALES</text>
</g>
</g>
<rect x="52.5" y="82.5" width="788" height="454" fill="none" stroke="#000" stroke-width="1"/>
<text x="166.5" y="72.0" font-size="14.1" text-anchor="middle" textLength="51.5" lengthAdjust="spacingAndGlyphs">91.5°W</text>
<text x="166.5" y="555.0" font-size="14.1" text-anchor="middle" textLength="51.5" lengthAdjust="spacingAndGlyphs">91.5°W</text>
<text x="280.1" y="72.0" font-size="14.1" text-anchor="middle" textLength="38.0" lengthAdjust="spacingAndGlyphs">90°W</text>
<text x="280.1" y="555.0" font-size="14.1" text-anchor="middle" textLength="38.0" lengthAdjust="spacingAndGlyphs">90°W</text>
<text x="393.8" y="72.0" font-size="14.1" text-anchor="middle" textLength="51.5" lengthAdjust="spacingAndGlyphs">88.5°W</text>
<text x="393.8" y="555.0" font-size="14.1" text-anchor="middle" textLength="51.5" lengthAdjust="spacingAndGlyphs">88.5°W</text>
<text x="507.4" y="72.0" font-size="14.1" text-anchor="middle" textLength="38.0" lengthAdjust="spacingAndGlyphs">87°W</text>
<text x="507.4" y="555.0" font-size="14.1" text-anchor="middle" textLength="38.0" lengthAdjust="spacingAndGlyphs">87°W</text>
<text x="621.1" y="72.0" font-size="14.1" text-anchor="middle" textLength="51.5" lengthAdjust="spacingAndGlyphs">85.5°W</text>
<text x="621.1" y="555.0" font-size="14.1" text-anchor="middle" textLength="51.5" lengthAdjust="spacingAndGlyphs">85.5°W</text>
<text x="734.7" y="72.0" font-size="14.1" text-anchor="middle" textLength="38.0" lengthAdjust="spacingAndGlyphs">84°W</text>
<text x="734.7" y="555.0" font-size="14.1" text-anchor="middle" textLength="38.0" lengthAdjust="spacingAndGlyphs">84°W</text>
<text x="10.6" y="464.1" font-size="14.1" textLength="34.6" lengthAdjust="spacingAndGlyphs">12°N</text>
<text x="846.8" y="464.1" font-size="14.1" textLength="34.6" lengthAdjust="spacingAndGlyphs">12°N</text>
<text x="10.6" y="389.1" font-size="14.1" textLength="34.6" lengthAdjust="spacingAndGlyphs">13°N</text>
<text x="846.8" y="389.1" font-size="14.1" textLength="34.6" lengthAdjust="spacingAndGlyphs">13°N</text>
<text x="10.6" y="313.1" font-size="14.1" textLength="34.6" lengthAdjust="spacingAndGlyphs">14°N</text>
<text x="846.8" y="313.1" font-size="14.1" textLength="34.6" lengthAdjust="spacingAndGlyphs">14°N</text>
<text x="10.6" y="237.1" font-size="14.1" textLength="34.6" lengthAdjust="spacingAndGlyphs">15°N</text>
<text x="846.8" y="237.1" font-size="14.1" textLength="34.6" lengthAdjust="spacingAndGlyphs">15°N</text>
<text x="10.6" y="162.1" font-size="14.1" textLength="34.6" lengthAdjust="spacingAndGlyphs">16°N</text>
<text x="846.8" y="162.1" font-size="14.1" textLength="34.6" lengthAdjust="spacingAndGlyphs">16°N</text>
<g shape-rendering="crispEdges"><rect x="212.10" y="583.5" width="21.50" height="24.0" fill="#ffffff"/><rect x="233.10" y="583.5" width="24.15" height="24.0" fill="#fffbd4"/><rect x="256.75" y="583.5" width="24.15" height="24.0" fill="#fffbd4"/><rect x="280.40" y="583.5" width="24.15" height="24.0" fill="#fff3b8"/><rect x="304.05" y="583.5" width="24.15" height="24.0" fill="#fee9a4"/><rect x="327.70" y="583.5" width="24.15" height="24.0" fill="#fee391"/><rect x="351.35" y="583.5" width="24.15" height="24.0" fill="#fdd370"/><rect x="375.00" y="583.5" width="24.15" height="24.0" fill="#fdc758"/><rect x="398.65" y="583.5" width="24.15" height="24.0" fill="#fdb443"/><rect x="422.30" y="583.5" width="24.15" height="24.0" fill="#fda030"/><rect x="445.95" y="583.5" width="24.15" height="24.0" fill="#f88c21"/><rect x="469.60" y="583.5" width="24.15" height="24.0" fill="#f07d19"/><rect x="493.25" y="583.5" width="24.15" height="24.0" fill="#e86e14"/><rect x="516.90" y="583.5" width="24.15" height="24.0" fill="#d95a0a"/><rect x="540.55" y="583.5" width="24.15" height="24.0" fill="#c94a03"/><rect x="564.20" y="583.5" width="24.15" height="24.0" fill="#b54203"/><rect x="587.85" y="583.5" width="24.15" height="24.0" fill="#9b3505"/><rect x="611.50" y="583.5" width="24.15" height="24.0" fill="#882e05"/><rect x="635.15" y="583.5" width="24.15" height="24.0" fill="#6d2607"/><rect x="658.80" y="583.5" width="22.20" height="24.0" fill="#6d2607"/></g>
<rect x="212.1" y="583.5" width="468.4" height="24.0" fill="none" stroke="#1a1a1a" stroke-width="0.8"/>
<line x1="233.1" y1="607.5" x2="233.1" y2="612.5" stroke="#000" stroke-width="0.8"/><text x="233.1" y="628" font-size="14.1" text-anchor="middle" textLength="8.4" lengthAdjust="spacingAndGlyphs">5</text>
<line x1="280.4" y1="607.5" x2="280.4" y2="612.5" stroke="#000" stroke-width="0.8"/><text x="280.4" y="628" font-size="14.1" text-anchor="middle" textLength="16.8" lengthAdjust="spacingAndGlyphs">15</text>
<line x1="327.7" y1="607.5" x2="327.7" y2="612.5" stroke="#000" stroke-width="0.8"/><text x="327.7" y="628" font-size="14.1" text-anchor="middle" textLength="16.8" lengthAdjust="spacingAndGlyphs">25</text>
<line x1="375.0" y1="607.5" x2="375.0" y2="612.5" stroke="#000" stroke-width="0.8"/><text x="375.0" y="628" font-size="14.1" text-anchor="middle" textLength="16.8" lengthAdjust="spacingAndGlyphs">35</text>
<line x1="422.3" y1="607.5" x2="422.3" y2="612.5" stroke="#000" stroke-width="0.8"/><text x="422.3" y="628" font-size="14.1" text-anchor="middle" textLength="16.8" lengthAdjust="spacingAndGlyphs">45</text>
<line x1="469.6" y1="607.5" x2="469.6" y2="612.5" stroke="#000" stroke-width="0.8"/><text x="469.6" y="628" font-size="14.1" text-anchor="middle" textLength="16.8" lengthAdjust="spacingAndGlyphs">55</text>
<line x1="516.9" y1="607.5" x2="516.9" y2="612.5" stroke="#000" stroke-width="0.8"/><text x="516.9" y="628" font-size="14.1" text-anchor="middle" textLength="16.8" lengthAdjust="spacingAndGlyphs">65</text>
<line x1="564.2" y1="607.5" x2="564.2" y2="612.5" stroke="#000" stroke-width="0.8"/><text x="564.2" y="628" font-size="14.1" text-anchor="middle" textLength="16.8" lengthAdjust="spacingAndGlyphs">75</text>
<line x1="611.5" y1="607.5" x2="611.5" y2="612.5" stroke="#000" stroke-width="0.8"/><text x="611.5" y="628" font-size="14.1" text-anchor="middle" textLength="16.8" lengthAdjust="spacingAndGlyphs">85</text>
<line x1="658.8" y1="607.5" x2="658.8" y2="612.5" stroke="#000" stroke-width="0.8"/><text x="658.8" y="628" font-size="14.1" text-anchor="middle" textLength="16.8" lengthAdjust="spacingAndGlyphs">95</text>
<text x="446" y="679.9" font-size="9.8" text-anchor="middle" textLength="250.5" lengthAdjust="spacingAndGlyphs">Hora de creación: 20/07/2025 12:30:54 (hora local)</text>
</svg></body></html>
